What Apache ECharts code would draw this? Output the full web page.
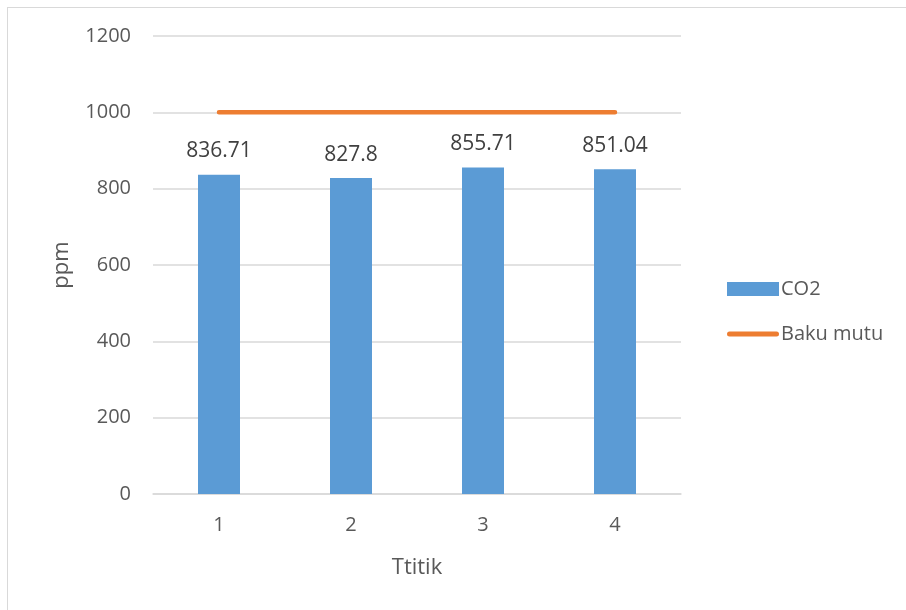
<!DOCTYPE html>
<html>
<head>
<meta charset="utf-8">
<script src="https://cdn.jsdelivr.net/npm/echarts@6/dist/echarts.min.js"></script>
<style>
  html, body { margin: 0; padding: 0; background: #fff; overflow: hidden; }
  #frame { position: absolute; left: 7px; top: 7px; width: 1000px; height: 700px; border: 1px solid #d9d9d9; box-sizing: border-box; }
  #chart { position: absolute; left: 0; top: 0; width: 906px; height: 610px; }
</style>
</head>
<body>
<div id="frame"></div>
<div id="chart"></div>
<script>
// Measurement points and readings
const categories = ['1', '2', '3', '4'];
const co2Values = [836.71, 827.8, 855.71, 851.04];
const standardValues = [1000, 1000, 1000, 1000];
const yTicks = { min: 0, max: 1200, interval: 200 };

const FONT = '"Open Sans", "Noto Sans", sans-serif';
const TEXT = '#595959';

// Rounded bar used as the legend key of the limit line
const LINE_ICON = 'path://M2.5,0 H49.5 A2.5,2.5 0 0 1 49.5,5 H2.5 A2.5,2.5 0 0 1 2.5,0 Z';

const chart = echarts.init(document.getElementById('chart'), null, { renderer: 'canvas' });
chart.setOption({
  backgroundColor: 'transparent',
  animation: false,
  textStyle: { fontFamily: FONT },
  grid: { left: 153, right: 225, top: 36, bottom: 116, containLabel: false },
  legend: {
    orient: 'vertical',
    left: 722,
    top: 274,
    itemWidth: 52,
    itemHeight: 14,
    itemGap: 25,
    textStyle: { fontFamily: FONT, fontSize: 20, color: TEXT, padding: [0, 0, 0, -3] },
    data: [
      { name: 'CO2', icon: 'rect' },
      { name: 'Baku mutu', icon: LINE_ICON, itemStyle: { color: '#ed7d31' } }
    ]
  },
  xAxis: {
    type: 'category',
    data: categories,
    name: 'Ttitik',
    nameLocation: 'middle',
    nameGap: 63,
    nameTextStyle: { fontFamily: FONT, fontSize: 22, color: TEXT },
    axisLine: { lineStyle: { color: '#d9d9d9', width: 1.5 } },
    axisTick: { show: false },
    axisLabel: { fontFamily: FONT, fontSize: 20, color: TEXT, margin: 21 }
  },
  yAxis: {
    type: 'value',
    min: yTicks.min,
    max: yTicks.max,
    interval: yTicks.interval,
    name: 'ppm',
    nameLocation: 'middle',
    nameGap: 80,
    nameTextStyle: { fontFamily: FONT, fontSize: 22, color: TEXT },
    axisLine: { show: false },
    axisTick: { show: false },
    axisLabel: {
      fontFamily: FONT, fontSize: 20, color: TEXT, margin: 22,
      formatter: (v) => String(v)
    },
    splitLine: { lineStyle: { color: '#d9d9d9', width: 1.5 } }
  },
  series: [
    {
      name: 'CO2',
      type: 'bar',
      data: co2Values,
      barWidth: 42,
      itemStyle: { color: '#5b9bd5' },
      label: {
        show: true,
        position: 'top',
        distance: 13,
        fontFamily: FONT,
        fontSize: 21,
        color: '#404040'
      }
    },
    {
      name: 'Baku mutu',
      type: 'line',
      data: standardValues,
      symbol: 'none',
      showSymbol: false,
      lineStyle: { color: '#ed7d31', width: 4.5, cap: 'round' },
      itemStyle: { color: '#ed7d31' }
    }
  ]
});
</script>
</body>
</html>
